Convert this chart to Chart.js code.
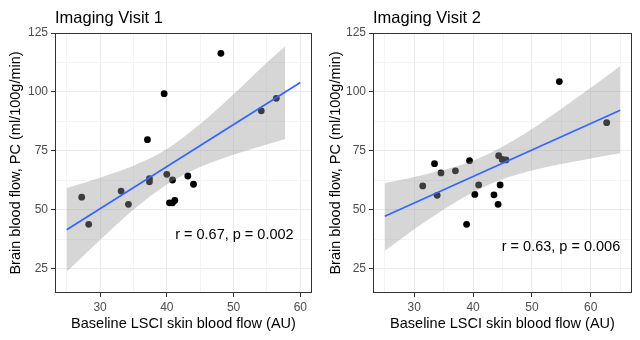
<!DOCTYPE html>
<html>
<head>
    <title>Skin vs brain blood flow</title>
    <script src="https://cdn.jsdelivr.net/npm/chart.js@4.4.0/dist/chart.umd.min.js"></script>
    <style>
        body {
            margin: 0;
            background: #ffffff;
            font-family: Arial, "Liberation Sans", sans-serif;
        }
        .wrap {
            display: flex;
            width: 640px;
            height: 340px;
        }
        canvas {
            display: block;
        }
    </style>
</head>
<body>
    <div class="wrap">
        <canvas id="visit1" width="320" height="340"></canvas>
        <canvas id="visit2" width="320" height="340"></canvas>
    </div>

    <script>
        // Imaging visit 1
        const v1Skin  = [48.1, 39.6, 37.1, 54.15, 56.4, 27.25, 28.3, 33.15, 34.25, 37.4, 37.4, 40.0, 40.85, 43.15, 44.0, 40.4, 40.85, 41.2];
        const v1Brain = [116.4, 99.3, 79.8, 92.0, 97.3, 55.4, 43.9, 58.0, 52.4, 63.3, 61.9, 65.1, 62.7, 64.4, 60.9, 53.0, 53.0, 54.0];
        const v1FitX = [25, 60];
        const v1FitY = [41.6, 104.0];
        const v1BandX     = [25, 30, 35, 40, 45, 50, 55, 57.75];
        const v1BandLower = [23.8, 37.3, 50.1, 60.8, 68.2, 73.4, 77.7, 80.1];
        const v1BandUpper = [59.3, 63.7, 68.7, 75.8, 86.4, 99.0, 112.5, 119.4];

        // Imaging visit 2
        const v2Skin  = [54.65, 62.7, 33.45, 39.4, 37.0, 34.55, 31.45, 33.9, 40.95, 40.3, 38.9, 43.55, 44.25, 44.6, 44.35, 44.95, 45.6];
        const v2Brain = [104.4, 87.0, 69.6, 70.9, 66.6, 65.7, 60.2, 56.2, 60.6, 56.6, 43.9, 56.4, 52.4, 60.6, 73.0, 71.4, 71.2];
        const v2FitX = [25, 65];
        const v2FitY = [47.3, 92.3];
        const v2BandX     = [25, 30, 35, 40, 45, 50, 55, 60, 65];
        const v2BandLower = [32.7, 41.8, 50.2, 57.5, 63.0, 66.7, 69.5, 71.8, 74.0];
        const v2BandUpper = [61.4, 64.0, 67.0, 70.9, 76.8, 84.3, 92.9, 101.8, 111.0];

        const yMajor = [25, 50, 75, 100, 125];
        const yMinor = [37.5, 62.5, 87.5, 112.5];
        const xMajor = [30, 40, 50, 60];
        const v1XMinor = [25, 35, 45, 55];
        const v2XMinor = [25, 35, 45, 55, 65];

        const xTitle = 'Baseline LSCI skin blood flow (AU)';
        const yTitle = 'Brain blood flow, PC (ml/100g/min)';

        function toPoints(xs, ys) {
            return xs.map((x, i) => ({ x: x, y: ys[i] }));
        }

        // panel title, stats label and full border
        const panelDecor = {
            id: 'panelDecor',
            afterDraw(chart, args, opts) {
                const c = chart.ctx;
                const a = chart.chartArea;
                c.save();
                c.strokeStyle = '#333333';
                c.lineWidth = 1;
                c.strokeRect(a.left + 0.5, a.top + 0.5, a.right - a.left - 1, a.bottom - a.top - 1);

                c.fillStyle = '#000000';
                c.font = '16.5px Arial, "Liberation Sans", sans-serif';
                c.textAlign = 'left';
                c.textBaseline = 'alphabetic';
                c.fillText(opts.title, a.left, 23);

                c.font = '14.5px Arial, "Liberation Sans", sans-serif';
                c.textAlign = 'right';
                c.textBaseline = 'middle';
                c.fillText(opts.stat, chart.scales.x.getPixelForValue(opts.statX),
                    chart.scales.y.getPixelForValue(opts.statY));
                c.restore();
            }
        };

        function makePanel(id, cfg) {
            const gridColor = ctx => (ctx.tick && ctx.tick.major) ? '#EBEBEB' : '#F4F4F4';
            const tickColor = ctx => (ctx.tick && ctx.tick.major) ? '#333333' : 'rgba(0,0,0,0)';

            new Chart(document.getElementById(id), {
                type: 'scatter',
                data: {
                    datasets: [
                        {
                            type: 'line',
                            data: toPoints(cfg.fitX, cfg.fitY),
                            borderColor: '#3366FF',
                            borderWidth: 1.7,
                            pointRadius: 0,
                            fill: false,
                            order: 0
                        },
                        {
                            type: 'line',
                            data: toPoints(cfg.bandX, cfg.bandLower),
                            borderWidth: 0,
                            borderColor: 'rgba(0,0,0,0)',
                            pointRadius: 0,
                            cubicInterpolationMode: 'monotone',
                            fill: false,
                            order: 1
                        },
                        {
                            type: 'line',
                            data: toPoints(cfg.bandX, cfg.bandUpper),
                            borderWidth: 0,
                            borderColor: 'rgba(0,0,0,0)',
                            backgroundColor: 'rgba(153,153,153,0.4)',
                            pointRadius: 0,
                            cubicInterpolationMode: 'monotone',
                            fill: '-1',
                            order: 1
                        },
                        {
                            data: toPoints(cfg.skin, cfg.brain),
                            backgroundColor: '#000000',
                            borderWidth: 0,
                            pointRadius: 3.4,
                            order: 2
                        }
                    ]
                },
                options: {
                    responsive: false,
                    animation: false,
                    devicePixelRatio: 1,
                    layout: { padding: { top: 33, right: cfg.padRight, left: 0, bottom: 0 } },
                    plugins: {
                        legend: { display: false },
                        tooltip: { enabled: false },
                        panelDecor: { title: cfg.title, stat: cfg.stat, statX: cfg.statX, statY: cfg.statY }
                    },
                    scales: {
                        x: {
                            type: 'linear',
                            min: cfg.xMin,
                            max: cfg.xMax,
                            afterBuildTicks: s => {
                                s.ticks = cfg.xMajor.map(v => ({ value: v, major: true }))
                                    .concat(cfg.xMinor.map(v => ({ value: v, major: false })));
                            },
                            afterFit: s => { s.height = 47; },
                            border: { display: false },
                            grid: { color: gridColor, tickColor: tickColor, tickLength: 4, lineWidth: 1 },
                            ticks: {
                                autoSkip: false,
                                maxRotation: 0,
                                padding: 3,
                                color: '#4D4D4D',
                                font: { size: 12, family: 'Arial, "Liberation Sans", sans-serif' },
                                callback: v => cfg.xMajor.includes(v) ? v : ''
                            },
                            title: {
                                display: true,
                                text: xTitle,
                                color: '#000000',
                                padding: { top: 0, bottom: 7 },
                                font: { size: 14.5, family: 'Arial, "Liberation Sans", sans-serif' }
                            }
                        },
                        y: {
                            type: 'linear',
                            min: 14.8,
                            max: 125,
                            afterBuildTicks: s => {
                                s.ticks = yMajor.map(v => ({ value: v, major: true }))
                                    .concat(yMinor.map(v => ({ value: v, major: false })));
                            },
                            afterFit: s => { s.width = cfg.yWidth; },
                            border: { display: false },
                            grid: { color: gridColor, tickColor: tickColor, tickLength: 4, lineWidth: 1 },
                            ticks: {
                                autoSkip: false,
                                padding: 3,
                                color: '#4D4D4D',
                                font: { size: 12, family: 'Arial, "Liberation Sans", sans-serif' },
                                callback: v => yMajor.includes(v) ? v : ''
                            },
                            title: {
                                display: true,
                                text: yTitle,
                                color: '#000000',
                                padding: { top: 7, bottom: 0 },
                                font: { size: 14.5, family: 'Arial, "Liberation Sans", sans-serif' }
                            }
                        }
                    }
                },
                plugins: [panelDecor]
            });
        }

        makePanel('visit1', {
            title: 'Imaging Visit 1',
            stat: 'r = 0.67, p = 0.002', statX: 59.0, statY: 39.2,
            skin: v1Skin, brain: v1Brain,
            fitX: v1FitX, fitY: v1FitY,
            bandX: v1BandX, bandLower: v1BandLower, bandUpper: v1BandUpper,
            xMin: 23.25, xMax: 61.75, xMajor: xMajor, xMinor: v1XMinor,
            yWidth: 55, padRight: 8
        });

        makePanel('visit2', {
            title: 'Imaging Visit 2',
            stat: 'r = 0.63, p = 0.006', statX: 65.0, statY: 34.3,
            skin: v2Skin, brain: v2Brain,
            fitX: v2FitX, fitY: v2FitY,
            bandX: v2BandX, bandLower: v2BandLower, bandUpper: v2BandUpper,
            xMin: 23, xMax: 67, xMajor: xMajor, xMinor: v2XMinor,
            yWidth: 53, padRight: 8
        });
    </script>
</body>
</html>
